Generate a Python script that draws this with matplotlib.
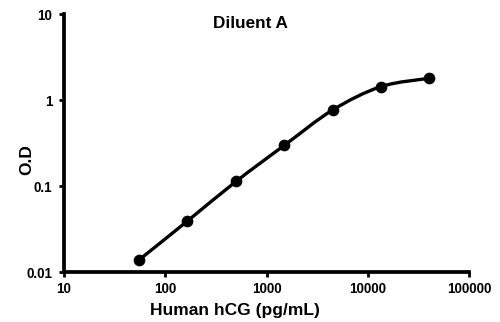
import numpy as np
import matplotlib
matplotlib.use("Agg")
import matplotlib.pyplot as plt
from matplotlib.path import Path
from matplotlib.patches import PathPatch
from matplotlib.ticker import FixedLocator, FixedFormatter, NullLocator

# Data
conc = [55, 165, 500, 1500, 4500, 13500, 40500]
od = [0.0138, 0.039, 0.113, 0.297, 0.765, 1.43, 1.79]
xticks = [10, 100, 1000, 10000, 100000]
xtick_labels = ["10", "100", "1000", "10000", "100000"]
yticks = [0.01, 0.1, 1, 10]
ytick_labels = ["0.01", "0.1", "1", "10"]
title = "Diluent A"
xlabel = "Human hCG (pg/mL)"
ylabel = "O.D"

plt.rcParams['font.family'] = ['Liberation Sans', 'DejaVu Sans']
plt.rcParams['font.weight'] = 'bold'

W, H = 500, 322
fig = plt.figure(figsize=(5.0, 3.22), dpi=100)
ax = fig.add_axes([64 / W, 1 - 272 / H, (469 - 64) / W, (272 - 14) / H])
ax.set_xscale('log')
ax.set_yscale('log')
ax.set_xlim(10, 100000)
ax.set_ylim(0.01, 10)

# smooth line (Catmull-Rom style Bezier in log space)
lx = np.log10(conc)
ly = np.log10(od)
n = len(lx)
verts = [(conc[0], od[0])]
codes = [Path.MOVETO]
for i in range(n - 1):
    i0 = max(i - 1, 0)
    i3 = min(i + 2, n - 1)
    c1x = lx[i] + (lx[i + 1] - lx[i0]) / 6
    c1y = ly[i] + (ly[i + 1] - ly[i0]) / 6
    c2x = lx[i + 1] - (lx[i3] - lx[i]) / 6
    c2y = ly[i + 1] - (ly[i3] - ly[i]) / 6
    verts += [(10 ** c1x, 10 ** c1y), (10 ** c2x, 10 ** c2y), (conc[i + 1], od[i + 1])]
    codes += [Path.CURVE4] * 3
patch = PathPatch(Path(verts, codes), facecolor='none', edgecolor='black',
                  lw=2.4, transform=ax.transData, clip_on=False, capstyle='round')
ax.add_patch(patch)
ax.plot(conc, od, 'o', color='black', markersize=7.4, clip_on=False, zorder=3)

for s in ['top', 'right']:
    ax.spines[s].set_visible(False)
for s in ['left', 'bottom']:
    ax.spines[s].set_linewidth(2.7)
    ax.spines[s].set_capstyle('projecting')

ax.xaxis.set_major_locator(FixedLocator(xticks))
ax.xaxis.set_major_formatter(FixedFormatter(xtick_labels))
ax.yaxis.set_major_locator(FixedLocator(yticks))
ax.yaxis.set_major_formatter(FixedFormatter(ytick_labels))
ax.xaxis.set_minor_locator(NullLocator())
ax.yaxis.set_minor_locator(NullLocator())
ax.tick_params(axis='both', which='major', direction='out', length=3.5, width=2,
               labelsize=9.75, color='black')
ax.tick_params(axis='x', pad=4)
ax.tick_params(axis='y', pad=5)
for lab in ax.get_xticklabels() + ax.get_yticklabels():
    lab.set_fontweight('bold')

fig.text(250 / W, 1 - 23 / H, title, ha='center', va='center', fontsize=12.3, fontweight='bold')
fig.text(234.5 / W, 1 - 310 / H, xlabel, ha='center', va='center', fontsize=12.5, fontweight='bold')
fig.text(26.5 / W, 1 - 160 / H, ylabel, ha='center', va='center', rotation=90,
         fontsize=12.5, fontweight='bold')

fig.savefig('out.png', dpi=100)
